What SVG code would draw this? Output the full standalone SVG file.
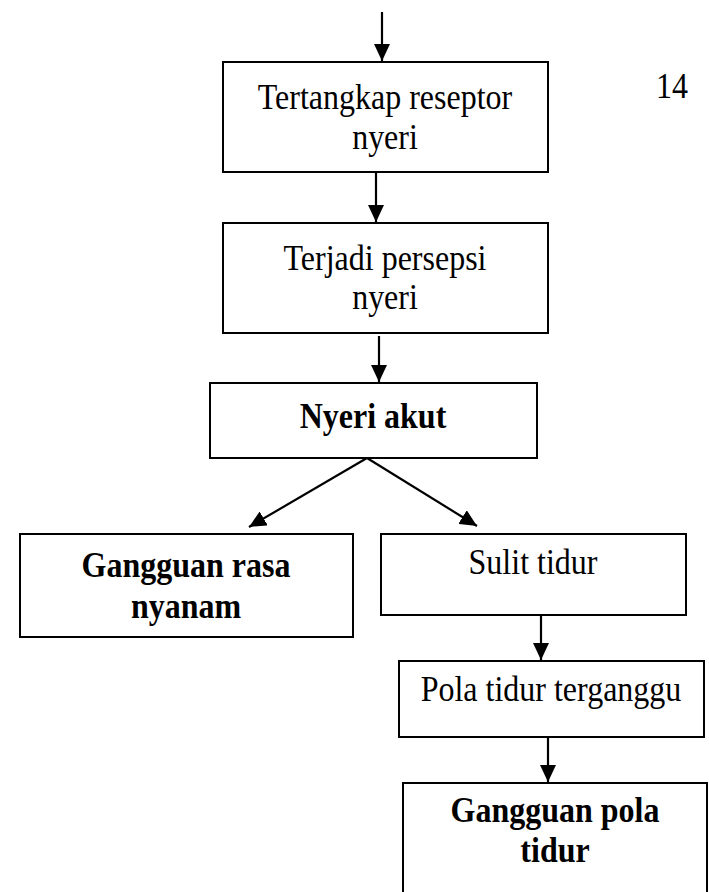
<svg xmlns="http://www.w3.org/2000/svg" width="709" height="892" viewBox="0 0 709 892">
<style>
.box{fill:#fff;stroke:#000;stroke-width:2}
.t{font-family:"Liberation Serif","Times New Roman",serif;font-size:32px;fill:#000;text-anchor:middle}
.b{font-weight:bold}
.c{stroke:#000;stroke-width:2.2;fill:none;marker-end:url(#ah)}
</style>
<defs>
<marker id="ah" viewBox="0 0 17 16" refX="17" refY="8" markerWidth="17" markerHeight="16" markerUnits="userSpaceOnUse" orient="auto">
<path d="M0,0 L17,8 L0,16 Z" fill="#000"/>
</marker>
</defs>
<rect width="709" height="892" fill="#fff"/>
<g id="connectors">
<line class="c" x1="382" y1="12" x2="382" y2="61"/>
<line class="c" x1="376" y1="172" x2="376" y2="222"/>
<line class="c" x1="379" y1="336" x2="379" y2="382"/>
<line class="c" x1="367" y1="458" x2="249" y2="527"/>
<line class="c" x1="367" y1="458" x2="477" y2="526"/>
<line class="c" x1="541" y1="615" x2="541" y2="660"/>
<line class="c" x1="548" y1="737" x2="548" y2="782"/>
</g>
<g id="page-number"><text class="t" transform="translate(672,98) scale(1,1.1)">14</text></g>
<g id="node-tertangkap">
<rect class="box" x="223" y="62" width="325" height="110"/>
<text class="t" transform="translate(385,109) scale(1,1.1)">Tertangkap reseptor</text>
<text class="t" transform="translate(385,149) scale(1,1.1)">nyeri</text>
</g>
<g id="node-persepsi">
<rect class="box" x="223" y="223" width="325" height="110"/>
<text class="t" transform="translate(385,270) scale(1,1.1)">Terjadi persepsi</text>
<text class="t" transform="translate(385,309) scale(1,1.1)">nyeri</text>
</g>
<g id="node-nyeri-akut">
<rect class="box" x="210" y="383" width="327" height="75"/>
<text class="t b" transform="translate(373,428) scale(1,1.1)">Nyeri akut</text>
</g>
<g id="node-rasa-nyaman">
<rect class="box" x="20" y="534" width="333" height="103"/>
<text class="t b" transform="translate(186,577) scale(1,1.1)">Gangguan rasa</text>
<text class="t b" transform="translate(186,618) scale(1,1.1)">nyanam</text>
</g>
<g id="node-sulit-tidur">
<rect class="box" x="381" y="534" width="305" height="81"/>
<text class="t" transform="translate(533,574) scale(1,1.1)">Sulit tidur</text>
</g>
<g id="node-pola-tidur">
<rect class="box" x="399" y="661" width="305" height="76"/>
<text class="t" transform="translate(551,701) scale(1,1.1)">Pola tidur terganggu</text>
</g>
<g id="node-gangguan-pola">
<rect class="box" x="403" y="783" width="304" height="120"/>
<text class="t b" transform="translate(555,822) scale(1,1.1)">Gangguan pola</text>
<text class="t b" transform="translate(555,862) scale(1,1.1)">tidur</text>
</g>
</svg>
